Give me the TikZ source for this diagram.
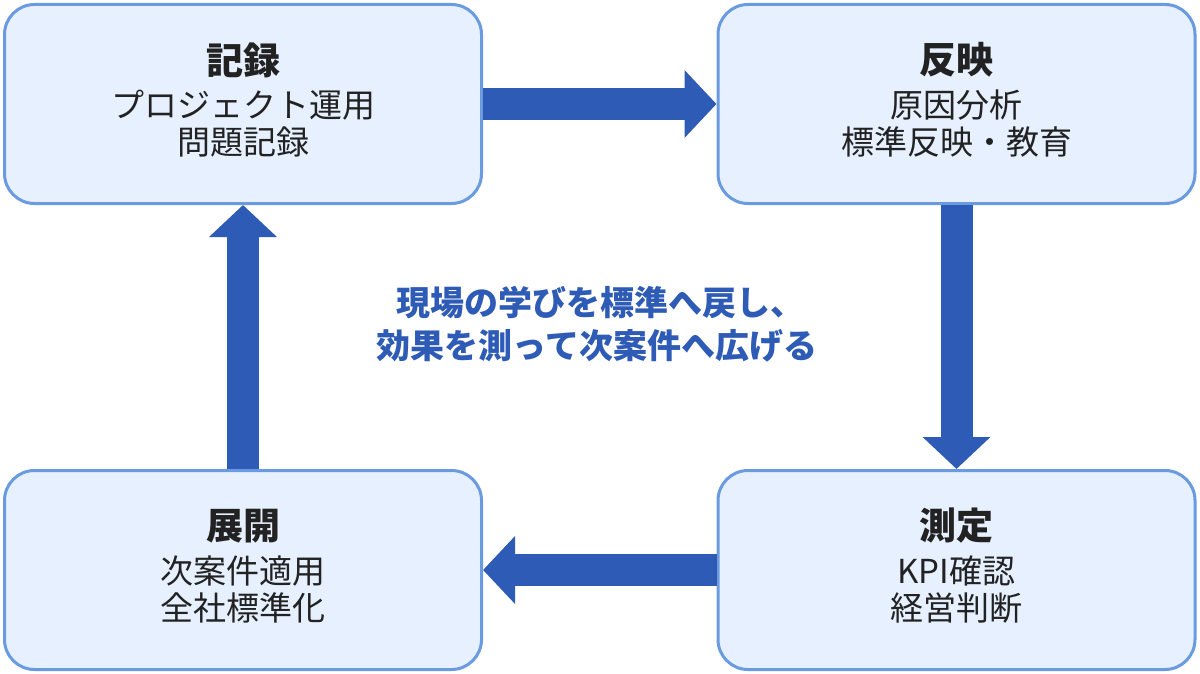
\documentclass[tikz,border=0pt]{standalone}
\usepackage{fontspec}
\setmainfont{Noto Sans CJK JP}
\usetikzlibrary{arrows.meta}
\definecolor{boxfill}{HTML}{E6F0FE}
\definecolor{boxline}{HTML}{6A9AE0}
\definecolor{arrowblue}{HTML}{2E5BB6}
\definecolor{textdark}{HTML}{222222}
\tikzset{
  stagebox/.style={draw=boxline, fill=boxfill, line width=3pt, rounded corners=30pt,
    minimum width=477pt, minimum height=199pt, inner sep=0pt},
  titletext/.style={inner sep=0pt, text=textdark, font=\fontsize{37}{40}\selectfont\bfseries},
  bodytext/.style={inner sep=0pt, text=textdark, font=\fontsize{33}{36}\selectfont},
  centertext/.style={inner sep=0pt, text=arrowblue, font=\fontsize{34}{38}\selectfont\bfseries},
  bigarrow/.style={draw=arrowblue, line width=32pt, -{Triangle[width=66pt,length=32pt]}}
}
\begin{document}
\begin{tikzpicture}[x=1pt,y=-1pt]
\useasboundingbox (0,0) rectangle (1200,674);
\fill[white] (0,0) rectangle (1200,674);
\node[stagebox] (tl) at (243,104) {};
\node[stagebox] (tr) at (956.5,104) {};
\node[stagebox] (bl) at (243,570) {};
\node[stagebox] (br) at (956.5,570) {};

\node[titletext] (tlt) at ([yshift=44pt]tl.center) {記録};
\node[bodytext] (tl1) at ([yshift=-1pt]tl.center) {プロジェクト運用};
\node[bodytext] (tl2) at ([yshift=-38pt]tl.center) {問題記録};

\node[titletext] (trt) at ([yshift=44pt]tr.center) {反映};
\node[bodytext] (tr1) at ([yshift=-1pt]tr.center) {原因分析};
\node[bodytext] (tr2) at ([yshift=-38pt]tr.center) {標準反映・教育};

\node[titletext] (brt) at ([yshift=44pt]br.center) {測定};
\node[bodytext] (br1) at ([yshift=-1pt]br.center) {KPI確認};
\node[bodytext] (br2) at ([yshift=-38pt]br.center) {経営判断};

\node[titletext] (blt) at ([yshift=44pt]bl.center) {展開};
\node[bodytext] (bl1) at ([yshift=-1pt]bl.center) {次案件適用};
\node[bodytext] (bl2) at ([yshift=-38pt]bl.center) {全社標準化};

\node[centertext] (c1) at (600,303) {現場の学びを標準へ戻し、};
\node[centertext] (c2) at (597,346) {効果を測って次案件へ広げる};

\draw[bigarrow] (tl) -- (tr);
\draw[bigarrow] (tr) -- (br);
\draw[bigarrow] (br) -- (bl);
\draw[bigarrow] (bl) -- (tl);
\end{tikzpicture}
\end{document}
